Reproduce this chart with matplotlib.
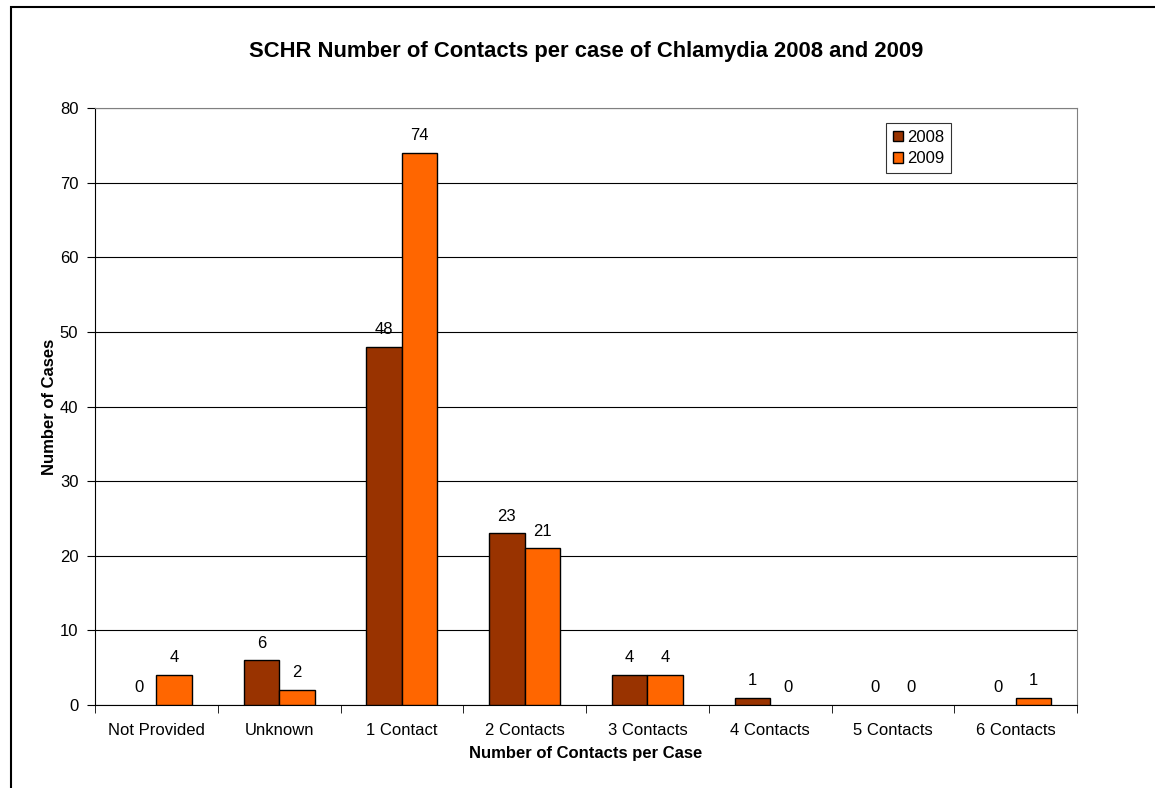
import matplotlib
matplotlib.use("Agg")
import matplotlib.pyplot as plt
import numpy as np
from matplotlib.patches import Rectangle, Patch

categories = ["Not Provided", "Unknown", "1 Contact", "2 Contacts", "3 Contacts",
              "4 Contacts", "5 Contacts", "6 Contacts"]
cases_2008 = [0, 6, 48, 23, 4, 1, 0, 0]
cases_2009 = [4, 2, 74, 21, 4, 0, 0, 1]
y_ticks = [0, 10, 20, 30, 40, 50, 60, 70, 80]

plt.rcParams["font.family"] = ["Liberation Sans", "DejaVu Sans"]

W, H = 1155, 788
fig = plt.figure(figsize=(W / 100, H / 100), dpi=100)
ax = fig.add_axes([95 / W, 1 - 705 / H, (1077 - 95) / W, (705 - 108) / H])

# outer chart frame
fig.patches.append(Rectangle((11 / W, -0.1), 1.2, 1 - 7 / H + 0.1, transform=fig.transFigure,
                             fill=False, edgecolor="black", linewidth=1.5, zorder=0))

FS = 12
C08, C09 = "#993300", "#FF6600"
x = np.arange(len(categories))
bw = 0.29
b1 = ax.bar(x - bw / 2, cases_2008, bw, color=C08, edgecolor="black", linewidth=1, zorder=3)
b2 = ax.bar(x + bw / 2, cases_2009, bw, color=C09, edgecolor="black", linewidth=1, zorder=3)
for bars in (b1, b2):
    for r in bars:
        if r.get_height() == 0:
            r.set_visible(False)

for bars, vals in ((b1, cases_2008), (b2, cases_2009)):
    for r, v in zip(bars, vals):
        ax.text(r.get_x() + r.get_width() / 2, v + 1.3, str(v), ha="center", va="bottom", fontsize=FS)

ax.set_xlim(-0.5, len(categories) - 0.5)
ax.set_ylim(0, 80)
ax.set_yticks(y_ticks)
ax.yaxis.grid(True, color="black", linewidth=0.8, zorder=0)
ax.set_axisbelow(True)

ax.set_xticks(x)
ax.set_xticklabels(categories, fontsize=FS)
ax.tick_params(axis="x", which="major", length=0, pad=13)
ax.set_xticks(np.arange(-0.5, len(categories)), minor=True)
ax.tick_params(axis="x", which="minor", length=6, direction="out", color="black")
ax.tick_params(axis="y", labelsize=FS, length=6, direction="out", pad=6)

for s in ("top", "right"):
    ax.spines[s].set_color("#808080")
ax.spines["left"].set_color("black")
ax.spines["bottom"].set_color("black")

ax.set_ylabel("Number of Cases", fontsize=12, fontweight="bold", labelpad=2)
ax.set_xlabel("Number of Contacts per Case", fontsize=12, fontweight="bold", labelpad=6)
fig.text(0.5 * (95 + 1077) / W, 1 - 51 / H, "SCHR Number of Contacts per case of Chlamydia 2008 and 2009",
         ha="center", va="center", fontsize=15.8, fontweight="bold")

handles = [Patch(facecolor=C08, edgecolor="black", linewidth=1, label="2008"),
           Patch(facecolor=C09, edgecolor="black", linewidth=1, label="2009")]
leg = ax.legend(handles=handles, loc="upper left",
                bbox_to_anchor=((886 - 95) / (1077 - 95), 1 - (123 - 108) / (705 - 108)),
                fontsize=FS, frameon=True, fancybox=False, edgecolor="black", handlelength=0.6,
                handleheight=0.6, handletextpad=0.25, borderpad=0.4, labelspacing=0.4, borderaxespad=0)
leg.get_frame().set_linewidth(0.8)

fig.savefig("out.png", dpi=100)
